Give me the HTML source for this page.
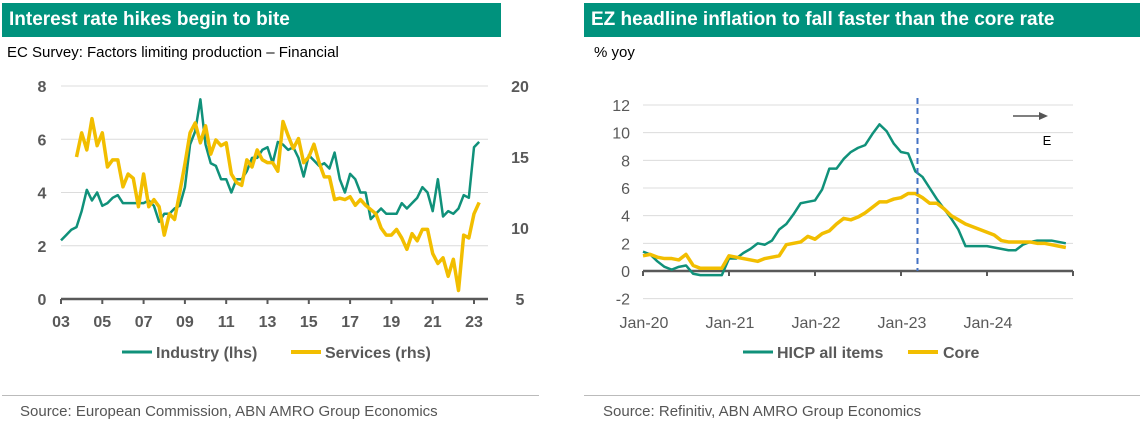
<!DOCTYPE html>
<html><head><meta charset="utf-8"><style>
body{margin:0;width:1146px;height:428px;background:#fff;font-family:"Liberation Sans",Arial,sans-serif;overflow:hidden;position:relative}
.hdr{position:absolute;top:3px;height:34px;background:#00927D;color:#fff;font-weight:bold;font-size:19px;line-height:34px;padding-left:7px;box-sizing:border-box}
.sub{position:absolute;top:44px;font-size:15px;color:#000}
.src{position:absolute;top:403px;font-size:15px;color:#555}
.sep{position:absolute;top:395px;height:1px;background:#bbb}
svg{position:absolute;left:0;top:0}
</style></head><body>
<div class="hdr" style="left:2px;width:499px">Interest rate hikes begin to bite</div>
<div class="sub" style="left:7px">EC Survey: Factors limiting production – Financial</div>
<div class="hdr" style="left:584px;width:556px">EZ headline inflation to fall faster than the core rate</div>
<div class="sub" style="left:594px">% yoy</div>
<div class="sep" style="left:2px;width:537px"></div>
<div class="sep" style="left:584px;width:556px"></div>
<div class="src" style="left:20px">Source: European Commission, ABN AMRO Group Economics</div>
<div class="src" style="left:603px">Source: Refinitiv, ABN AMRO Group Economics</div>
<svg id="c" width="1146" height="428"></svg>
<script>
const industry=[2.2,2.4,2.6,2.7,3.3,4.1,3.7,4.0,3.5,3.6,3.8,3.9,3.6,3.6,3.6,3.6,3.6,3.7,3.5,2.9,3.2,3.2,3.4,3.5,4.2,5.8,6.3,7.5,5.8,5.1,5.0,4.5,4.5,4.0,4.5,4.5,4.8,5.3,5.3,5.6,5.7,5.1,5.9,5.8,5.6,5.7,5.3,4.6,5.4,5.2,5.0,5.1,4.9,5.5,4.5,4.0,4.7,4.5,4.0,4.0,3.0,3.2,3.4,3.2,3.2,3.2,3.6,3.4,3.6,3.8,4.2,4.0,3.3,4.5,3.1,3.3,3.2,3.4,3.9,3.8,5.7,5.9];
const services=[15.0,16.7,15.5,17.7,15.8,16.7,14.3,14.8,14.8,12.9,13.8,13.5,11.5,13.8,11.5,12.0,11.5,9.5,11.0,10.6,12.5,14.5,16.7,17.4,16.0,17.2,15.2,16.2,15.8,16.0,13.8,13.2,13.0,14.8,14.3,15.5,14.8,14.6,14.6,14.0,17.5,16.5,15.6,16.3,14.6,15.0,15.9,14.6,13.6,13.6,12.0,12.1,12.0,12.2,11.6,12.0,11.6,11.3,11.0,10.0,9.5,9.5,9.9,9.3,8.5,9.6,9.1,9.9,9.9,8.2,7.5,7.9,6.6,7.8,5.6,9.5,9.3,11.0,11.8];
const leftTicks=[0,2,4,6,8];
const rightTicks=[5,10,15,20];
const yearLabels=["03","05","07","09","11","13","15","17","19","21","23"];
const hicp=[1.4,1.2,0.7,0.3,0.1,0.3,0.4,-0.2,-0.3,-0.3,-0.3,-0.3,0.9,0.9,1.3,1.6,2.0,1.9,2.2,3.0,3.4,4.1,4.9,5.0,5.1,5.9,7.4,7.4,8.1,8.6,8.9,9.1,9.9,10.6,10.1,9.2,8.6,8.5,7.2,6.8,6.0,5.2,4.5,3.8,3.0,1.8,1.8,1.8,1.8,1.7,1.6,1.5,1.5,1.9,2.1,2.2,2.2,2.2,2.1,2.0];
const core=[1.1,1.2,1.0,0.9,0.9,0.8,1.2,0.4,0.2,0.2,0.2,0.2,1.1,1.0,0.9,0.8,0.7,0.9,1.0,1.1,1.9,2.0,2.1,2.5,2.3,2.7,2.9,3.4,3.8,3.7,3.9,4.2,4.6,5.0,5.0,5.2,5.3,5.6,5.6,5.3,4.9,4.9,4.5,4.0,3.7,3.4,3.2,3.0,2.8,2.6,2.2,2.1,2.1,2.1,2.1,2.0,2.0,1.9,1.8,1.7];
const infTicks=[-2,0,2,4,6,8,10,12];
const monthLabels=["Jan-20","Jan-21","Jan-22","Jan-23","Jan-24"];
const forecastStart=38.3;

const svg=document.getElementById('c');const NS='http://www.w3.org/2000/svg';
function mk(t,a,txt){const e=document.createElementNS(NS,t);for(const k in a)e.setAttribute(k,a[k]);if(txt!==undefined)e.textContent=txt;svg.appendChild(e);return e;}
const TEAL='#10917A',GOLD='#F2BE00',GRID='#dcdcdc',AX='#595959';
// left chart
const lx=q=>61+q*41.3/8, ly=v=>299-v*(299-86)/8, ry=v=>299-(v-5)*(299-86)/15;
leftTicks.forEach(v=>{if(v>0){const g=mk('line',{x1:61,x2:488,y1:ly(v),y2:ly(v),stroke:GRID});}
const t=mk('text',{x:42,y:ly(v)+6,'text-anchor':'middle','font-size':16,'font-weight':'bold',fill:AX},v);});
rightTicks.forEach(v=>{const t=mk('text',{x:520,y:ry(v)+6,'text-anchor':'middle','font-size':16,'font-weight':'bold',fill:AX},v);});
let a=mk('line',{x1:61,x2:488,y1:299,y2:299,stroke:AX,'stroke-width':2.5});
yearLabels.forEach((l,i)=>{const x=lx(i*8);mk('line',{x1:x,x2:x,y1:299,y2:304,stroke:AX,'stroke-width':2});const t=mk('text',{x:x,y:327,'text-anchor':'middle','font-size':16,'font-weight':'bold',fill:AX},l);});
let p=mk('polyline',{points:industry.map((v,i)=>lx(i)+','+ly(v)).join(' '),fill:'none',stroke:TEAL,'stroke-width':2.5,'stroke-linejoin':'round'});
p=mk('polyline',{points:services.map((v,i)=>lx(i+3)+','+ry(v)).join(' '),fill:'none',stroke:GOLD,'stroke-width':3.5,'stroke-linejoin':'round'});
// left legend
let g=mk('line',{x1:122,x2:152,y1:352,y2:352,stroke:TEAL,'stroke-width':3});
g=mk('text',{x:156,y:358,'font-size':16,'font-weight':'bold',fill:AX},'Industry (lhs)');
g=mk('line',{x1:291,x2:321,y1:352,y2:352,stroke:GOLD,'stroke-width':4});
g=mk('text',{x:325,y:358,'font-size':16,'font-weight':'bold',fill:AX},'Services (rhs)');
// right chart
const mx=m=>643+m*(1073-643)/60, my=v=>271-v*(271-105)/12;
infTicks.forEach(v=>{if(v!==0){const l=mk('line',{x1:643,x2:1073,y1:my(v),y2:my(v),stroke:GRID});}
const t=mk('text',{x:630,y:my(v)+6,'text-anchor':'end','font-size':16,fill:AX},v);});
a=mk('line',{x1:643,x2:1073,y1:271,y2:271,stroke:AX,'stroke-width':2.5});
for(let i=0;i<=5;i++){const x=mx(i*12);mk('line',{x1:x,x2:x,y1:271,y2:276,stroke:AX,'stroke-width':2});}
monthLabels.forEach((l,i)=>{const t=mk('text',{x:mx(i*12)+1,y:328,'text-anchor':'middle','font-size':16,fill:AX},l);});
p=mk('polyline',{points:hicp.map((v,i)=>mx(i)+','+my(v)).join(' '),fill:'none',stroke:TEAL,'stroke-width':2.5,'stroke-linejoin':'round'});
p=mk('polyline',{points:core.map((v,i)=>mx(i)+','+my(v)).join(' '),fill:'none',stroke:GOLD,'stroke-width':3.5,'stroke-linejoin':'round'});
g=mk('line',{x1:mx(forecastStart),x2:mx(forecastStart),y1:98,y2:271,stroke:'#4472C4','stroke-width':2,'stroke-dasharray':'6,4'});
g=mk('line',{x1:1013,x2:1040,y1:116,y2:116,stroke:'#555','stroke-width':1.5});
mk('polygon',{points:'1048,116 1039,112 1039,120',fill:'#555'});
g=mk('text',{x:1047,y:145,'text-anchor':'middle','font-size':13,fill:'#000'},'E');
g=mk('line',{x1:743,x2:773,y1:352,y2:352,stroke:TEAL,'stroke-width':3});
g=mk('text',{x:777,y:358,'font-size':16,'font-weight':'bold',fill:AX},'HICP all items');
g=mk('line',{x1:908,x2:938,y1:352,y2:352,stroke:GOLD,'stroke-width':4});
g=mk('text',{x:943,y:358,'font-size':16,'font-weight':'bold',fill:AX},'Core');
</script>
</body></html>
